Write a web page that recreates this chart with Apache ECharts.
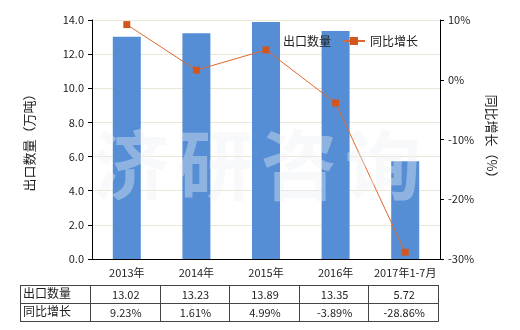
<!DOCTYPE html>
<html><head><meta charset="utf-8">
<script src="https://cdn.jsdelivr.net/npm/echarts@6/dist/echarts.min.js"></script>
<style>html,body{margin:0;padding:0;background:#fff}#c{width:520px;height:330px}</style>
</head><body><div id="c"></div>
<script>
var categories = ['2013年','2014年','2015年','2016年','2017年1-7月'];
var exportQty = [13.02, 13.23, 13.89, 13.35, 5.72];
var yoyGrowth = [9.23, 1.61, 4.99, -3.89, -28.86];
var qtyLabels = ['13.02','13.23','13.89','13.35','5.72'];
var yoyLabels = ['9.23%','1.61%','4.99%','-3.89%','-28.86%'];
var seriesNames = ['出口数量','同比增长'];
var watermarkChars = ['济','研','咨','询'];
var FONT = '"Noto Sans CJK SC", sans-serif';

var chart = echarts.init(document.getElementById('c'), null, {renderer:'canvas'});
var GL = 92, GR = 80, GT = 20, GB = 71;
var option = {
  animation:false,
  textStyle:{fontFamily:FONT},
  grid:{left:GL,right:GR,top:GT,bottom:GB},
  legend:{left:251, top:30, itemWidth:22, itemHeight:10, itemGap:11,
    textStyle:{fontSize:12,color:'#222',fontFamily:FONT},
    data:[{name:seriesNames[0],icon:'rect'},{name:seriesNames[1]}]},
  xAxis:{type:'category', data:categories,
    axisLine:{lineStyle:{color:'#000'}}, axisTick:{show:false},
    axisLabel:{color:'#222',fontSize:11,margin:8,interval:0,fontFamily:FONT}},
  yAxis:[
    {type:'value',min:0,max:14,interval:2,name:'出口数量（万吨）',nameLocation:'middle',nameGap:56,
     nameTextStyle:{fontSize:13,color:'#222',fontFamily:FONT},
     axisLine:{show:true,lineStyle:{color:'#000'}},axisTick:{show:true,length:4,lineStyle:{color:'#000'}},
     axisLabel:{color:'#222',fontSize:11,formatter:function(v){return v.toFixed(1);}},
     splitLine:{lineStyle:{color:'#ebe7d7'}}},
    {type:'value',min:-30,max:10,interval:10,name:'同比增长（%）',nameLocation:'middle',nameGap:44,nameRotate:-90,
     nameTextStyle:{fontSize:13,color:'#222',fontFamily:FONT},
     axisLine:{show:true,lineStyle:{color:'#000'}},axisTick:{show:true,length:4,lineStyle:{color:'#000'}},
     axisLabel:{color:'#222',fontSize:11,formatter:'{value}%'},
     splitLine:{show:false}}
  ],
  series:[
    {name:seriesNames[0],type:'bar',data:exportQty,barWidth:28,itemStyle:{color:'#558ed5'}},
    {name:seriesNames[1],type:'line',yAxisIndex:1,data:yoyGrowth,symbol:'rect',symbolSize:7,
     lineStyle:{color:'#e0682c',width:1},itemStyle:{color:'#d4561f'}}
  ]
};
chart.setOption(option);

var els = [];
var x0 = 20, xFirst = 90;
var centers = [];
for (var i=0;i<categories.length;i++){
  centers.push(chart.convertToPixel({xAxisIndex:0}, i));
}
var catW = centers[1]-centers[0];
var colR = centers.map(function(c){return c + catW/2 - 2;});
var yTop = 285, yMid = 303, yBot = 321;
var ls = {stroke:'#444', lineWidth:1};
function hline(y){ els.push({type:'line',shape:{x1:x0,y1:y+0.5,x2:Math.round(colR[colR.length-1])+0.5,y2:y+0.5},style:ls}); }
function vline(x){ els.push({type:'line',shape:{x1:Math.round(x)+0.5,y1:yTop,x2:Math.round(x)+0.5,y2:yBot+0.5},style:ls}); }
hline(yTop); hline(yMid); hline(yBot);
vline(x0); vline(xFirst);
colR.forEach(vline);
var rows = [[seriesNames[0], qtyLabels],[seriesNames[1], yoyLabels]];
rows.forEach(function(r, ri){
  var cy = (ri===0 ? (yTop+yMid)/2 : (yMid+yBot)/2);
  els.push({type:'text',style:{text:r[0],x:x0+3,y:cy-1,textVerticalAlign:'middle',textAlign:'left',font:'12px '+FONT,fill:'#222'}});
  r[1].forEach(function(t,i){
    els.push({type:'text',style:{text:t,x:centers[i]-1,y:cy+1,textVerticalAlign:'middle',textAlign:'center',font:'11px '+FONT,fill:'#222'}});
  });
});
watermarkChars.forEach(function(ch, k){
  els.push({type:'text',z:100,style:{text:ch,x:131+k*84,y:165,textAlign:'center',textVerticalAlign:'middle',
    font:'bold 76px "Noto Sans CJK SC", sans-serif',fill:'rgba(236,240,244,0.38)'}});
});
chart.setOption({graphic:els});
</script></body></html>
